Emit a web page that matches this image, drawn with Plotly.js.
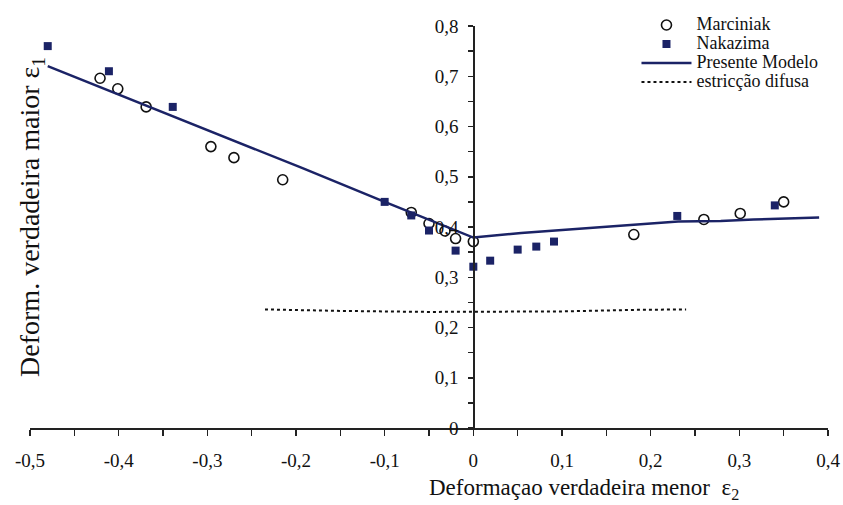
<!DOCTYPE html>
<html>
<head>
<meta charset="utf-8">
<script src="https://cdn.plot.ly/plotly-3.0.1.min.js"></script>
<style>html,body{margin:0;padding:0;background:#fff;}#chart{width:843px;height:505px;}</style>
</head>
<body>
<div id="chart"></div>
<script>
// Marciniak (open circles)
var marcX = [-0.421, -0.401, -0.369, -0.296, -0.270, -0.215, -0.070, -0.050, -0.032, -0.020, 0.000, 0.181, 0.260, 0.301, 0.350];
var marcY = [0.696, 0.675, 0.639, 0.560, 0.538, 0.494, 0.429, 0.407, 0.392, 0.377, 0.371, 0.385, 0.415, 0.427, 0.450];
// Nakazima (filled squares)
var nakaX = [-0.480, -0.411, -0.339, -0.100, -0.070, -0.050, -0.020, 0.000, 0.019, 0.050, 0.071, 0.091, 0.230, 0.340];
var nakaY = [0.760, 0.710, 0.639, 0.450, 0.423, 0.393, 0.353, 0.321, 0.333, 0.355, 0.361, 0.371, 0.422, 0.443];
// Presente Modelo (solid line)
var modelX = [-0.480, -0.194, -0.100, 0.000, 0.054, 0.091, 0.167, 0.231, 0.279, 0.316, 0.390];
var modelY = [0.720, 0.518, 0.450, 0.379, 0.388, 0.393, 0.403, 0.411, 0.412, 0.415, 0.419];
// estricção difusa (dotted line)
var difX = [-0.235, -0.150, -0.050, 0.000, 0.100, 0.180, 0.240];
var difY = [0.236, 0.233, 0.231, 0.231, 0.232, 0.235, 0.236];

var seriesNames = ['Marciniak', 'Nakazima', 'Presente Modelo', 'estricção difusa'];
var xTickVals = [-0.5, -0.4, -0.3, -0.2, -0.1, 0, 0.1, 0.2, 0.3, 0.4];
var xTickText = ['-0,5', '-0,4', '-0,3', '-0,2', '-0,1', '0', '0,1', '0,2', '0,3', '0,4'];
var yTickVals = [0, 0.1, 0.2, 0.3, 0.4, 0.5, 0.6, 0.7, 0.8];
var yTickText = ['0', '0,1', '0,2', '0,3', '0,4', '0,5', '0,6', '0,7', '0,8'];

var serif = 'Liberation Serif, Times New Roman, serif';
var navy = '#1b2366';
function big(s) { return '<span style="font-size:18px">' + s + '</span>'; }

var traces = [
  {x: marcX, y: marcY, name: big(seriesNames[0]), type: 'scatter', mode: 'markers',
   marker: {symbol: 'circle-open', size: 10, color: '#111', line: {width: 1.6, color: '#111'}}},
  {x: nakaX, y: nakaY, name: big(seriesNames[1]), type: 'scatter', mode: 'markers',
   marker: {symbol: 'square', size: 8, color: navy}},
  {x: modelX, y: modelY, name: big(seriesNames[2]), type: 'scatter', mode: 'lines',
   line: {color: navy, width: 2.5}},
  {x: difX, y: difY, name: big(seriesNames[3]), type: 'scatter', mode: 'lines',
   line: {color: '#111', width: 2, dash: 'dot'}}
];

var layout = {
  width: 843, height: 505,
  margin: {l: 30, r: 15, t: 25, b: 77},
  paper_bgcolor: '#fff', plot_bgcolor: '#fff',
  font: {family: serif, color: '#111', size: 19},
  showlegend: true,
  legend: {x: 0.76, y: 1.036, xanchor: 'left', yanchor: 'top', bgcolor: 'rgba(0,0,0,0)',
           font: {family: serif, size: 12, color: '#111'}, tracegroupgap: 0, itemwidth: 50},
  xaxis: {range: [-0.5, 0.4], showgrid: false, zeroline: false, showline: true, linecolor: '#222', linewidth: 1.5,
          tickmode: 'array', tickvals: xTickVals, ticktext: xTickText, ticks: 'outside', ticklen: 6, tickwidth: 1.5, tickcolor: '#222',
          ticklabelstandoff: 9, tickfont: {family: serif, size: 19, color: '#111'},
          minor: {dtick: 0.05, tick0: 0, ticks: 'outside', ticklen: 6, tickwidth: 1.5, tickcolor: '#222', showgrid: false}},
  yaxis: {range: [0, 0.8], anchor: 'free', position: 0.5/0.9, showgrid: false, zeroline: false, showline: true, linecolor: '#222', linewidth: 1.5,
          tickmode: 'array', tickvals: yTickVals, ticktext: yTickText, ticks: 'outside', ticklen: 5, tickwidth: 1.5, tickcolor: '#222',
          ticklabelstandoff: 6, tickfont: {family: serif, size: 19, color: '#111'},
          minor: {dtick: 0.05, tick0: 0, ticks: 'outside', ticklen: 5, tickwidth: 1.5, tickcolor: '#222', showgrid: false}},
  annotations: [
    {text: 'Deformaçao verdadeira menor  ε<sub>2</sub>', xref: 'paper', yref: 'paper', x: 0.694, y: -0.152,
     xanchor: 'center', yanchor: 'middle', showarrow: false, font: {family: serif, size: 23, color: '#111'}},
    {text: 'Deform. verdadeira maior ε<sub>1</sub>', xref: 'paper', yref: 'paper', x: 0.0025, y: 0.525,
     xanchor: 'center', yanchor: 'middle', textangle: -90, showarrow: false, font: {family: serif, size: 28, color: '#111'}}
  ]
};

Plotly.newPlot('chart', traces, layout, {staticPlot: true, displayModeBar: false});
</script>
</body>
</html>
